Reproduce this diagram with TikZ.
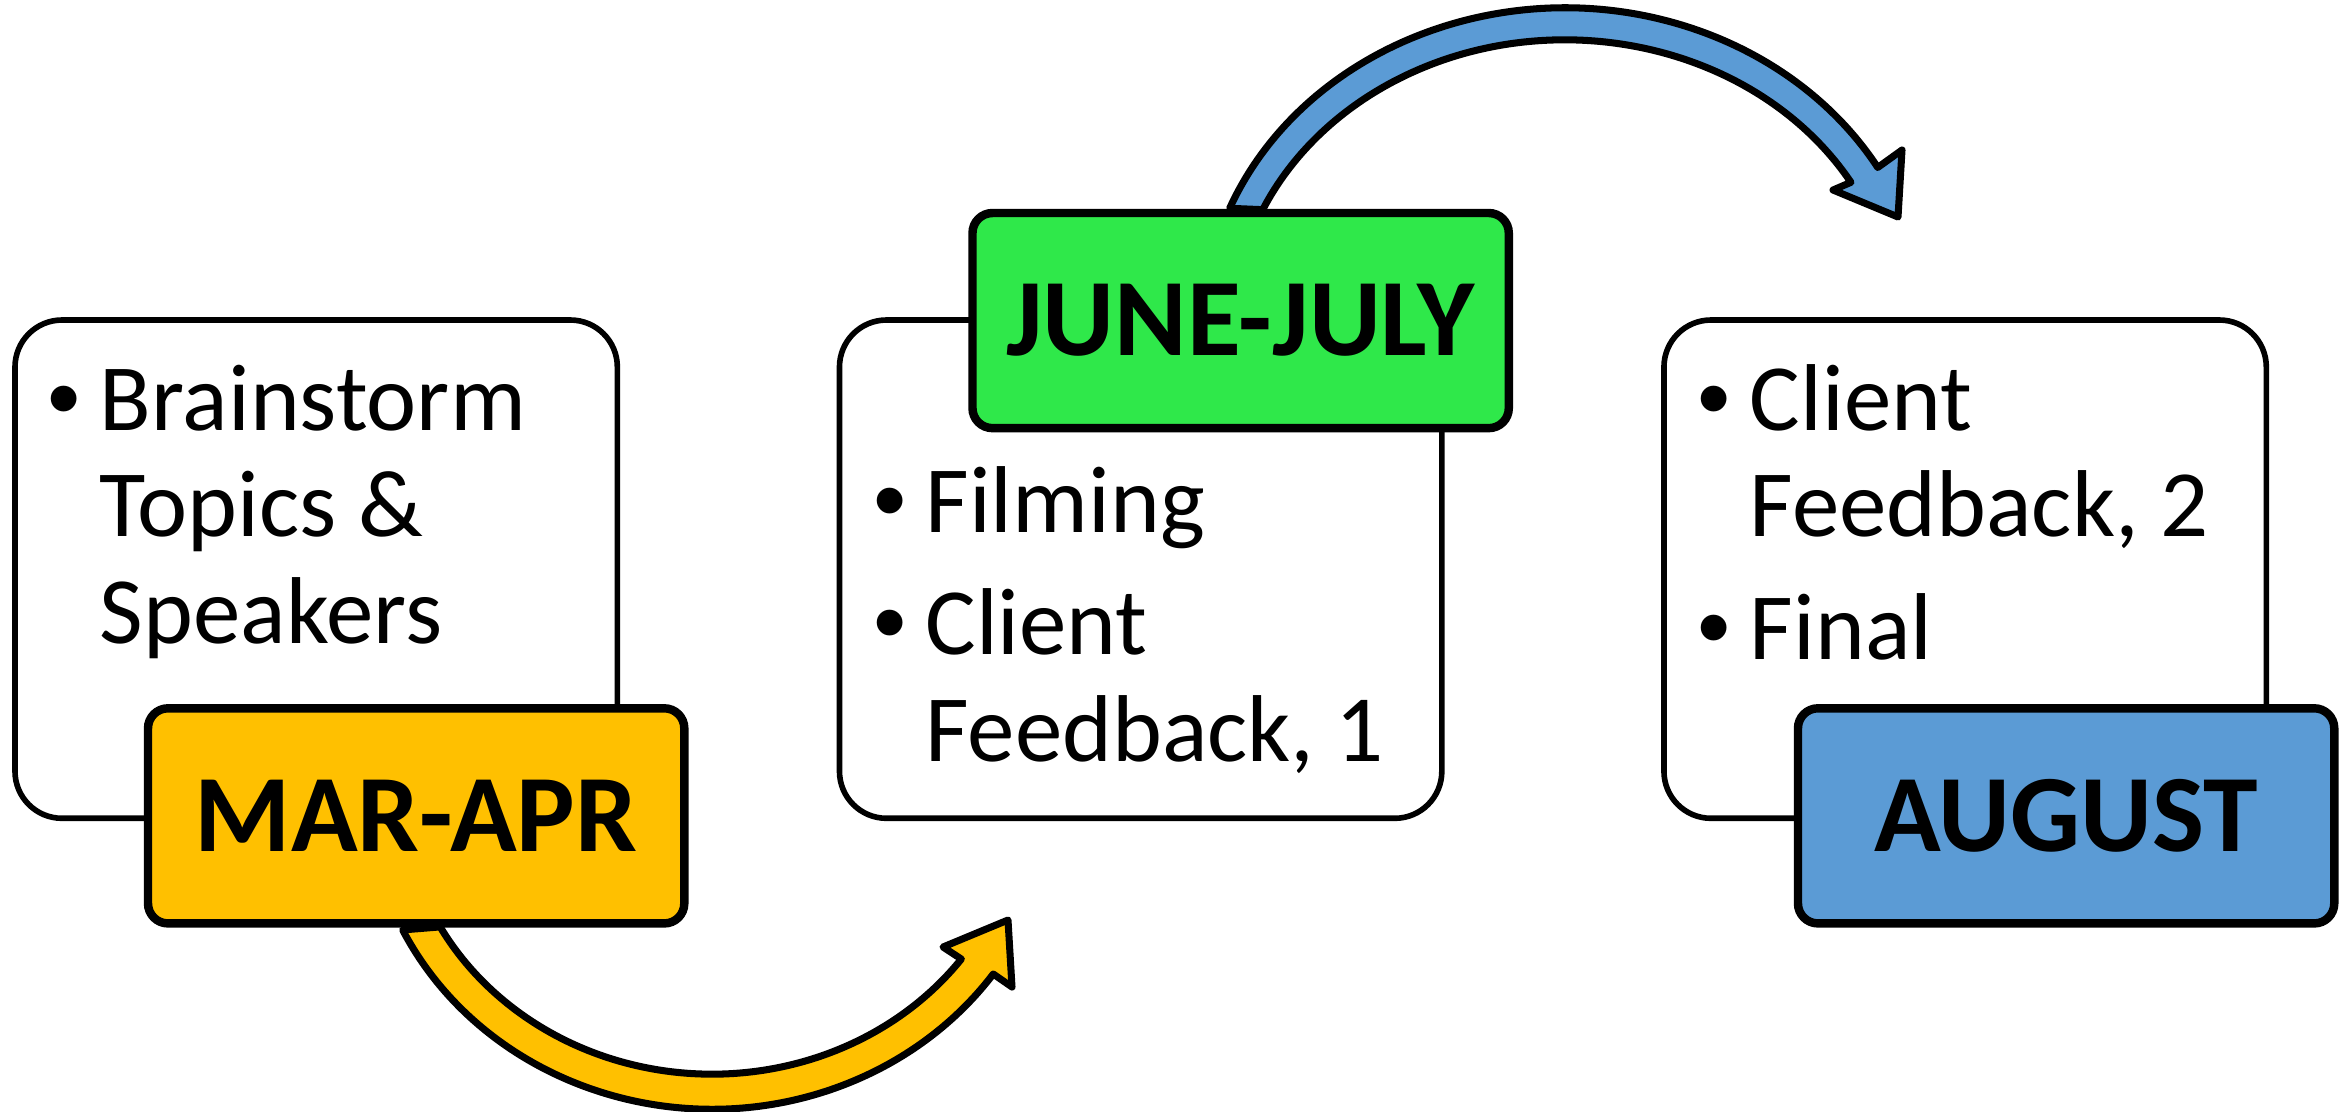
\documentclass[tikz,border=0pt]{standalone}
\usepackage{fontspec}
\setmainfont{Carlito}
\newfontfamily\bulletfont{Liberation Sans}
\usepackage{tikz}
\usetikzlibrary{positioning, calc}

\definecolor{marcol}{HTML}{FFC000}
\definecolor{junecol}{HTML}{2FE84A}
\definecolor{augcol}{HTML}{5B9BD5}

\newcommand{\bul}{\leavevmode\llap{{\bulletfont •}\hspace{0.19cm}}}

\begin{document}
\begin{tikzpicture}[
    x=0.01cm, y=-0.01cm,
    node distance=2.22cm,
    panel/.style={draw, line width=1.6pt, rounded corners=0.47cm, fill=white, minimum width=6.02cm, minimum height=4.98cm, outer sep=0pt, inner sep=0pt},
    tag/.style={draw, line width=2.4pt, rounded corners=0.2cm, minimum width=5.36cm, minimum height=2.15cm, outer sep=0pt, inner sep=0pt, font=\fontsize{31.3pt}{36pt}\selectfont\bfseries},
    items/.style={text width=5.1cm, align=flush left, inner sep=0pt, outer sep=0pt, anchor=base west, font=\fontsize{27pt}{30.4pt}\selectfont},
    curved/.style={draw, line width=2pt, line join=round}
]
\useasboundingbox (0,0) rectangle (2351,1111);

% white panels
\node[panel, anchor=north west] (p1) at (15,320) {};
\node[panel, right=of p1] (p2) {};
\node[panel, right=of p2] (p3) {};

\node[items] (t1) at ([shift={(85,110)}]p1.north west) {\bul Brainstorm\\Topics \&\\Speakers};
\node[items] (t2) at ([shift={(86,212)}]p2.north west) {\bul Filming\\[0.16cm]\bul Client\\Feedback, 1};
\node[items] (t3) at ([shift={(86,110)}]p3.north west) {\bul Client\\Feedback, 2\\[0.16cm]\bul Final};

% curved arrows
\coordinate (yc) at (712,790);
\coordinate (ya) at (1012,987);
\coordinate (ytip) at (1008,920);
\coordinate (yb) at (943,947);
\filldraw[curved, fill=marcol] ($(yc)+(206:3.44cm and 3.19cm)$)
  arc[start angle=206, end angle=324.8, x radius=3.44cm, y radius=3.19cm]
  -- (ya) -- (ytip) -- (yb)
  -- ($(yc)+(323.5:3.10cm and 2.84cm)$)
  arc[start angle=323.5, end angle=208.8, x radius=3.10cm, y radius=2.84cm]
  -- cycle;

\coordinate (bc) at (1565,330);
\coordinate (ba) at (1902,150);
\coordinate (btip) at (1898,217);
\coordinate (bb) at (1833,190);
\filldraw[curved, fill=augcol] ($(bc)+(157.8:3.62cm and 3.22cm)$)
  arc[start angle=157.8, end angle=30.3, x radius=3.62cm, y radius=3.22cm]
  -- (ba) -- (btip) -- (bb)
  -- ($(bc)+(30.6:3.32cm and 2.90cm)$)
  arc[start angle=30.6, end angle=155.5, x radius=3.32cm, y radius=2.90cm]
  -- cycle;

% month tags
\node[tag, fill=marcol, anchor=north west] (mar) at ([shift={(133,-110)}]p1.south west) {MAR-APR};
\node[tag, fill=junecol, anchor=north west] (june) at ([shift={(133,-107)}]p2.north west) {JUNE-JULY};
\node[tag, fill=augcol, anchor=north west] (aug) at ([shift={(134,-110)}]p3.south west) {AUGUST};
\end{tikzpicture}
\end{document}
